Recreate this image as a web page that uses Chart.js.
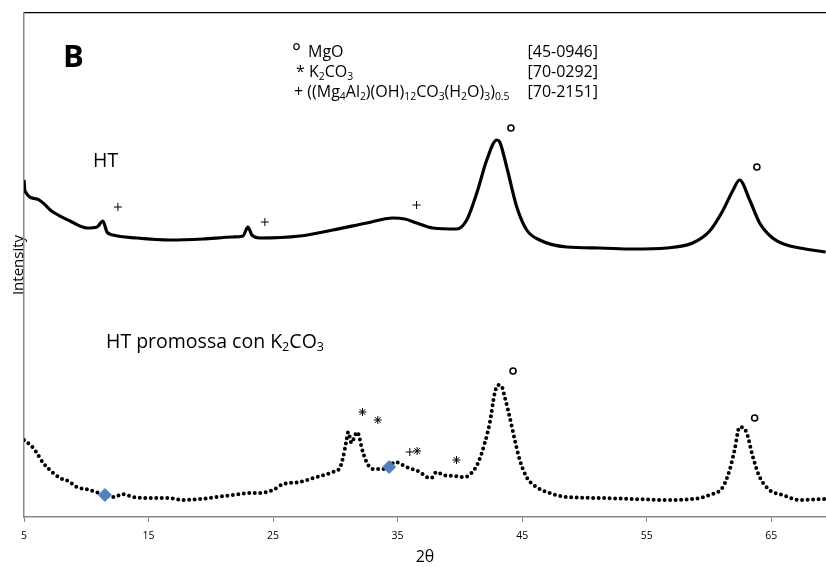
<!DOCTYPE html>
<html>
<head>
<meta charset="utf-8">
<script src="https://cdn.jsdelivr.net/npm/chart.js@4.4.0/dist/chart.umd.min.js"></script>
<style>
  html, body { margin: 0; padding: 0; background: #fff; }
  #wrap { width: 826px; height: 567px; }
</style>
</head>
<body>
<div id="wrap"><canvas id="xrdChart" width="826" height="567"></canvas></div>
<script>
// 2theta axis
const xTicks = [5, 15, 25, 35, 45, 55, 65];

// HT (line)
const htTheta = [5.00, 5.08, 6.04, 7.33, 8.69, 10.06, 10.86, 11.34, 11.66, 12.14, 14.07, 16.72, 19.37, 21.77, 22.58, 22.98, 23.30, 23.94, 27.15, 29.80, 32.53, 34.61, 35.58, 36.54, 37.83, 39.75, 40.55, 41.36, 42.16, 42.96, 43.20, 43.76, 44.57, 45.37, 46.41, 48.58, 51.23, 53.88, 56.61, 58.69, 60.06, 61.10, 61.90, 62.46, 63.27, 64.07, 65.11, 66.24, 67.28, 69.37];
const htInt = [337, 326, 318, 305, 296, 289, 290, 296, 285, 282, 279, 277, 278, 280, 281, 290, 282, 279, 281, 287, 294, 299, 298, 294, 289, 288, 297, 324, 357, 377, 375, 350, 310, 287, 277, 270, 269, 268, 269, 274, 286, 306, 326, 337, 317, 294, 279, 272, 269, 265];

// HT promossa con K2CO3 (dotted)
const promTheta = [5.00, 5.75, 6.55, 7.35, 7.89, 8.56, 9.23, 10.30, 11.50, 12.30, 12.87, 13.77, 15.11, 16.45, 17.79, 19.13, 20.47, 21.80, 23.14, 23.94, 25.01, 25.81, 27.15, 28.49, 29.82, 30.36, 30.63, 30.90, 31.03, 31.30, 31.56, 31.75, 32.23, 32.63, 33.03, 33.84, 34.32, 34.78, 35.71, 36.78, 37.32, 37.72, 38.12, 38.65, 39.45, 40.39, 40.93, 41.46, 42.00, 42.40, 42.80, 43.07, 43.34, 43.60, 44.00, 44.41, 44.81, 45.35, 46.15, 47.22, 48.56, 51.23, 53.90, 56.58, 58.72, 60.06, 61.12, 61.66, 62.06, 62.46, 63.00, 63.53, 64.07, 64.87, 65.94, 67.28, 69.37];
const promInt = [77, 69, 54, 44, 39, 36, 30, 27, 22, 20, 23, 20, 19, 19, 17, 18, 20, 22, 24, 24, 27, 33, 35, 40, 45, 49, 60, 77, 85, 74, 81, 85, 64, 52, 48, 48, 50, 55, 50, 45, 40, 39, 45, 42, 41, 40, 44, 54, 74, 94, 124, 132, 131, 120, 100, 77, 57, 40, 30, 24, 20, 19, 18, 17, 18, 22, 30, 47, 67, 90, 85, 60, 40, 27, 22, 17, 18];

// blue diamonds on the promoted pattern
const diamondTheta = [11.50, 34.32];
const diamondInt = [22, 50];

// phase markers
const mgoTheta = [44.10, 63.85, 44.27, 63.67];
const mgoInt = [389, 350, 146, 99];
const hydroTheta = [12.54, 24.34, 36.52, 35.98];
const hydroInt = [310, 295, 312, 65];
const k2co3Theta = [32.18, 33.41, 36.57, 39.73];
const k2co3Int = [105, 97, 66, 57];

const pts = (xs, ys) => xs.map((x, i) => ({ x: x, y: ys[i] }));

Chart.defaults.font.family = "'Open Sans', sans-serif";
Chart.defaults.color = '#000';

// draws text with subscript pieces: parts = [[text, isSub], ...]
function drawRich(ctx, x, y, parts, size, align) {
  const sub = size * 0.65;
  let total = 0;
  parts.forEach(p => {
    ctx.font = (p[1] ? sub : size) + "px 'Open Sans'";
    total += ctx.measureText(p[0]).width;
  });
  let cx = align === 'right' ? x - total : x;
  ctx.textAlign = 'left';
  ctx.textBaseline = 'middle';
  parts.forEach(p => {
    ctx.font = (p[1] ? sub : size) + "px 'Open Sans'";
    ctx.fillText(p[0], cx, p[1] ? y + size * 0.3 : y);
    cx += ctx.measureText(p[0]).width;
  });
}

const labelsPlugin = {
  id: 'labels',
  afterDraw(chart) {
    const ctx = chart.ctx;
    ctx.save();
    ctx.fillStyle = '#000';

    ctx.font = "bold 31px 'Open Sans'";
    ctx.textBaseline = 'middle';
    ctx.fillText('B', 63, 58);

    // reference phases
    drawRich(ctx, 292, 53, [['°', false]], 21);
    drawRich(ctx, 308, 52, [['MgO', false]], 16);
    drawRich(ctx, 598, 52, [['[45-0946]', false]], 16, 'right');
    drawRich(ctx, 296, 72, [['* K', false], ['2', true], ['CO', false], ['3', true]], 16);
    drawRich(ctx, 598, 72, [['[70-0292]', false]], 16, 'right');
    drawRich(ctx, 294, 92, [['+ ((Mg', false], ['4', true], ['Al', false], ['2', true], [')(OH)', false], ['12', true],
      ['CO', false], ['3', true], ['(H', false], ['2', true], ['O)', false], ['3', true], [')', false], ['0.5', true]], 16);
    drawRich(ctx, 598, 92, [['[70-2151]', false]], 16, 'right');

    drawRich(ctx, 93, 161, [['HT', false]], 19.5);
    drawRich(ctx, 106, 342, [['HT promossa con K', false], ['2', true], ['CO', false], ['3', true]], 19.5);
    ctx.restore();
  }
};

new Chart(document.getElementById('xrdChart'), {
  type: 'line',
  data: {
    datasets: [
      {
        label: 'marker',
        type: 'scatter',
        data: pts(diamondTheta, diamondInt),
        pointStyle: 'rectRot',
        pointRadius: 6.5,
        backgroundColor: '#4F81BD',
        borderColor: '#4F81BD',
        showLine: false
      },
      {
        label: 'HT',
        data: pts(htTheta, htInt),
        borderColor: '#000',
        borderWidth: 3.2,
        pointRadius: 0,
        cubicInterpolationMode: 'monotone',
        fill: false
      },
      {
        label: 'HT promossa con K2CO3',
        data: pts(promTheta, promInt),
        borderColor: '#000',
        borderWidth: 4,
        borderDash: [0, 5.5],
        borderCapStyle: 'round',
        pointRadius: 0,
        cubicInterpolationMode: 'monotone',
        fill: false
      },
      {
        label: 'MgO',
        type: 'scatter',
        data: pts(mgoTheta, mgoInt),
        pointStyle: 'circle',
        pointRadius: 3,
        borderWidth: 1.6,
        borderColor: '#000',
        backgroundColor: '#fff'
      },
      {
        label: 'idrotalcite',
        type: 'scatter',
        data: pts(hydroTheta, hydroInt),
        pointStyle: 'cross',
        pointRadius: 4,
        borderWidth: 1,
        borderColor: '#000'
      },
      {
        label: 'K2CO3',
        type: 'scatter',
        data: pts(k2co3Theta, k2co3Int),
        pointStyle: 'star',
        pointRadius: 4,
        borderWidth: 1,
        borderColor: '#000'
      }
    ]
  },
  options: {
    responsive: false,
    animation: false,
    devicePixelRatio: 1,
    layout: { autoPadding: false, padding: { top: 13, left: 0, right: 0, bottom: 0 } },
    plugins: { legend: { display: false }, tooltip: { enabled: false } },
    scales: {
      x: {
        type: 'linear',
        position: 'bottom',
        min: 5,
        max: 69.4,
        afterFit: s => { s.height = 50; },
        afterBuildTicks: s => { s.ticks = xTicks.map(v => ({ value: v })); },
        ticks: { font: { size: 10.5 }, color: '#000', padding: 8, maxRotation: 0 },
        grid: { drawOnChartArea: false, drawTicks: true, tickLength: 5, color: '#868686' },
        border: { color: '#868686', width: 1.5 },
        title: { display: true, text: '2θ', font: { size: 16 }, color: '#000', padding: { top: 0, bottom: 0 } }
      },
      xTop: {
        type: 'linear',
        position: 'top',
        min: 5,
        max: 69.4,
        afterFit: s => { s.height = 0; },
        ticks: { display: false },
        grid: { display: false, drawTicks: false },
        border: { color: '#000', width: 1.3 }
      },
      y: {
        min: 0,
        max: 504,
        afterFit: s => { s.width = 24; },
        ticks: { display: false },
        grid: { display: false, drawTicks: false },
        border: { color: '#868686', width: 1.5 },
        title: { display: true, text: 'Intensity', font: { size: 15 }, color: '#000', padding: { top: 10, bottom: 0 } }
      }
    }
  },
  plugins: [labelsPlugin]
});
</script>
</body>
</html>
